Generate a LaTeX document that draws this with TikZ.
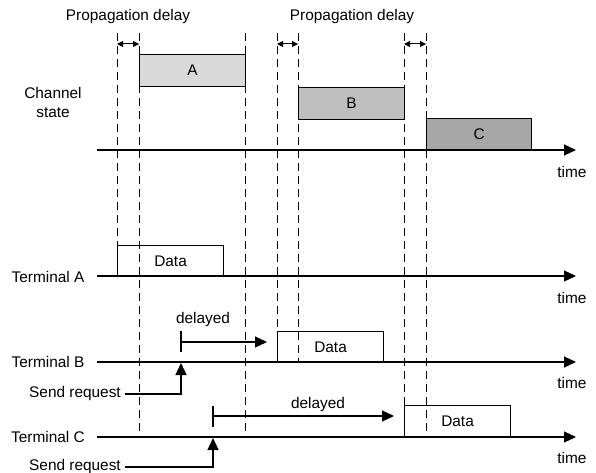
\documentclass[tikz,border=0pt]{standalone}
\usepackage{fontspec}
\setmainfont{Liberation Sans}
\usetikzlibrary{arrows.meta}
\begin{document}
\begin{tikzpicture}[x=1pt,y=-1pt,
  lbl/.style={font=\fontsize{15.4}{19}\selectfont, inner sep=1pt},
  axisline/.style={line width=1.1pt,-{Triangle[length=12pt,width=11pt]}},
  guide/.style={line width=1pt,dash pattern=on 8pt off 5pt},
  chanbox/.style={draw,line width=1.2pt,minimum width=106pt,minimum height=32pt,anchor=north west,inner sep=0pt,font=\fontsize{15.4}{17}\selectfont},
  databox/.style={draw,line width=1.1pt,minimum width=106pt,minimum height=31pt,anchor=north west,inner sep=0pt,font=\fontsize{15.4}{17}\selectfont},
  pdarrow/.style={line width=1pt,{Triangle[length=6pt,width=6pt]}-{Triangle[length=6pt,width=6pt]}},
  reqarrow/.style={line width=1.1pt,-{Triangle[length=12pt,width=11pt]}},
  tick/.style={line width=1.2pt}
]
\useasboundingbox (0,0) rectangle (596,473);

% titles
\node[lbl] (pd1) at (128,17) {Propagation delay};
\node[lbl] (pd2) at (352,17) {Propagation delay};
\node[lbl,align=center] (cs) at (53,102) {Channel\\state};

% vertical guides
\coordinate (g1t) at (117,33); \coordinate (g1b) at (117,246);
\coordinate (g2t) at (139,33); \coordinate (g2b) at (139,432);
\coordinate (g3t) at (245,33); \coordinate (g3b) at (245,432);
\coordinate (g4t) at (277,33); \coordinate (g4b) at (277,331);
\coordinate (g5t) at (298,33); \coordinate (g5b) at (298,362);
\coordinate (g6t) at (404,33); \coordinate (g6b) at (404,405);
\coordinate (g7t) at (426,33); \coordinate (g7b) at (426,437);
\foreach \i in {1,...,7} {\draw[guide] (g\i t) -- (g\i b);}

% propagation delay arrows
\coordinate (p1a) at (117,44); \coordinate (p1b) at (139,44);
\coordinate (p2a) at (277,44); \coordinate (p2b) at (298,44);
\coordinate (p3a) at (404,44); \coordinate (p3b) at (426,44);
\draw[pdarrow] (p1a) -- (p1b);
\draw[pdarrow] (p2a) -- (p2b);
\draw[pdarrow] (p3a) -- (p3b);

% channel state
\node[chanbox,fill=black!15] (A) at (139,54) {A};
\node[chanbox,fill=black!25] (B) at (298,87) {B};
\node[chanbox,fill=black!35,minimum width=105pt,minimum height=31pt] (C) at (426,118) {C};
\coordinate (cs0) at (97,150); \coordinate (cs1) at (576,150);
\draw[axisline] (cs0) -- (cs1);
\node[lbl] (t1) at (572,172) {time};

% terminal A
\node[lbl] (ta) at (48,277) {Terminal A};
\node[databox] (dA) at (117,245) {Data};
\coordinate (ta0) at (97,276); \coordinate (ta1) at (576,276);
\draw[axisline] (ta0) -- (ta1);
\node[lbl] (t2) at (572,298) {time};

% terminal B
\node[lbl] (tb) at (48,362) {Terminal B};
\node[databox] (dB) at (277,331) {Data};
\coordinate (tb0) at (97,362); \coordinate (tb1) at (576,362);
\draw[axisline] (tb0) -- (tb1);
\node[lbl] (t3) at (572,383) {time};
\node[lbl] (srB) at (75,394) {Send request};
\coordinate (rB) at (181,363);
\draw[reqarrow] ([xshift=3pt]srB.east) -| (rB);
\coordinate (kB1) at (181,331); \coordinate (kB2) at (181,352);
\draw[tick] (kB1) -- (kB2);
\coordinate (hB0) at (181,342); \coordinate (hB1) at (267,342);
\draw[reqarrow] (hB0) -- (hB1);
\node[lbl] (dlB) at (203,320) {delayed};

% terminal C
\node[lbl] (tc) at (48,437) {Terminal C};
\node[databox,minimum height=32pt] (dC) at (404,405) {Data};
\coordinate (tc0) at (97,437); \coordinate (tc1) at (576,437);
\draw[axisline] (tc0) -- (tc1);
\node[lbl] (t4) at (572,458) {time};
\node[lbl] (srC) at (75,467) {Send request};
\coordinate (rC) at (213,438);
\draw[reqarrow] ([xshift=3pt]srC.east) -| (rC);
\coordinate (kC1) at (213,406); \coordinate (kC2) at (213,427);
\draw[tick] (kC1) -- (kC2);
\coordinate (hC0) at (213,416); \coordinate (hC1) at (394,416);
\draw[reqarrow] (hC0) -- (hC1);
\node[lbl] (dlC) at (318,405) {delayed};
\end{tikzpicture}
\end{document}
